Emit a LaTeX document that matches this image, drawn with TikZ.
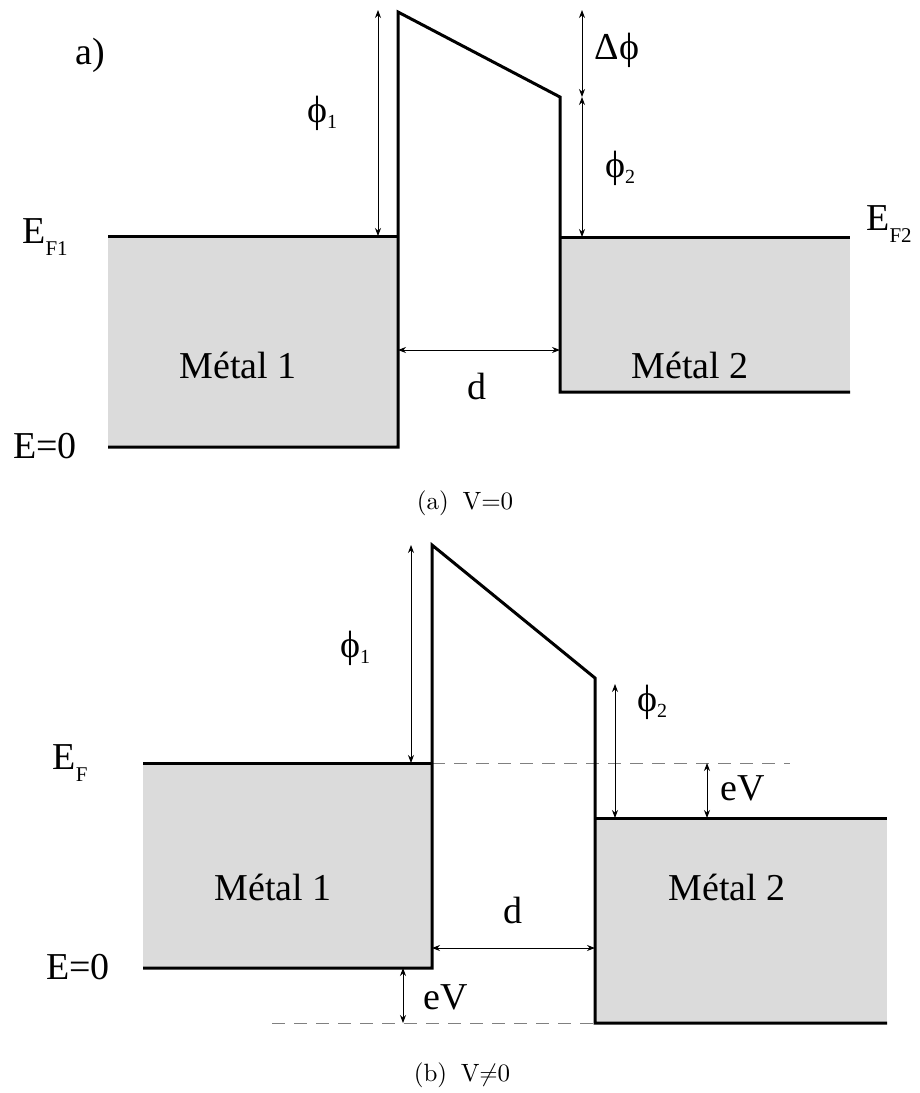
\documentclass[tikz,border=0pt]{standalone}
\usepackage{fontspec}
\newfontfamily\timesfont{Liberation Serif}
\newfontfamily\capfont{lmroman10-regular}[Extension=.otf]
\usetikzlibrary{arrows.meta}
\newcommand\lowsub[1]{\raisebox{-6pt}{\fontsize{20}{20}\selectfont #1}}
\newcommand\fermisub[1]{\raisebox{-12pt}{\fontsize{21}{21}\selectfont #1}}

\begin{document}
\begin{tikzpicture}[x=1pt, y=-1pt,
  band/.style={line width=3pt, line join=miter},
  metal/.style={fill=black!14},
  gap/.style={line width=0.8pt, {Stealth[length=8pt,width=6pt]}-{Stealth[length=8pt,width=6pt]}},
  level/.style={line width=0.8pt, gray, dash pattern=on 13pt off 9pt},
  lbl/.style={font=\timesfont\fontsize{38}{42}\selectfont, inner sep=0pt},
  subcaption/.style={font=\capfont\fontsize{25}{29}\selectfont, inner sep=0pt}]
\useasboundingbox (0,0) rectangle (919,1093);

% (a) V=0 : bands
\fill[metal] (108,236) rectangle (398,447);
\fill[metal] (560,237) rectangle (850,392);
\draw[band] (108,236) -- (398,236);
\draw[band] (108,447) -- (398,447) -- (398,12) -- (560,97) -- (560,392) -- (850,392);
\draw[band] (560,237) -- (850,237);

% (a) gaps
\coordinate (aP1top) at (378,10);
\coordinate (aP1bot) at (378,236);
\coordinate (aDtop) at (582,10);
\coordinate (aDmid) at (582,97);
\coordinate (aP2bot) at (582,237);
\coordinate (aDl) at (398,350);
\coordinate (aDr) at (560,350);
\draw[gap] (aP1top) -- (aP1bot);
\draw[gap] (aDtop) -- (aDmid);
\draw[gap] (aDmid) -- (aP2bot);
\draw[gap] (aDl) -- (aDr);

% (a) labels
\node[lbl] (atag) at (90,55) {a)};
\node[lbl] (aphi1) at (322,113) {ϕ\lowsub{1}};
\node[lbl] (adphi) at (617,50) {Δϕ};
\node[lbl] (aphi2) at (620,168) {ϕ\lowsub{2}};
\node[lbl] (aef1) at (45,237) {E\fermisub{F1}};
\node[lbl] (ae0) at (45,446) {E=0};
\node[lbl] (aef2) at (889,224) {E\fermisub{F2}};
\node[lbl] (am1) at (238,365) {Métal 1};
\node[lbl] (am2) at (690,365) {Métal 2};
\node[lbl] (ad) at (477,386) {d};
\node[subcaption] (acap) at (465,503) {(a)\hspace{0.55em}V=0};

% (b) V!=0 : bands
\fill[metal] (143,763) rectangle (432,968);
\fill[metal] (595,818) rectangle (887,1023);
\draw[level] (432,763) -- (790,763);
\draw[level] (272,1023) -- (595,1023);
\draw[band] (143,763) -- (432,763);
\draw[band] (143,968) -- (432,968) -- (432,545) -- (595,678) -- (595,1023) -- (887,1023);
\draw[band] (595,818) -- (887,818);

% (b) gaps
\coordinate (bP1top) at (411,545);
\coordinate (bP1bot) at (411,763);
\coordinate (bP2top) at (615,684);
\coordinate (bP2bot) at (615,818);
\coordinate (bVtop) at (707,763);
\coordinate (bVbot) at (707,818);
\coordinate (bWtop) at (403,968);
\coordinate (bWbot) at (403,1023);
\coordinate (bDl) at (432,948);
\coordinate (bDr) at (595,948);
\draw[gap] (bP1top) -- (bP1bot);
\draw[gap] (bP2top) -- (bP2bot);
\draw[gap] (bVtop) -- (bVbot);
\draw[gap] (bWtop) -- (bWbot);
\draw[gap] (bDl) -- (bDr);

% (b) labels
\node[lbl] (bphi1) at (355,648) {ϕ\lowsub{1}};
\node[lbl] (bphi2) at (652,702) {ϕ\lowsub{2}};
\node[lbl] (bev) at (743,788) {eV};
\node[lbl] (bev2) at (446,997) {eV};
\node[lbl] (bef) at (70,763) {E\fermisub{F}};
\node[lbl] (be0) at (78,967) {E=0};
\node[lbl] (bm1) at (273,887) {Métal 1};
\node[lbl] (bm2) at (727,887) {Métal 2};
\node[lbl] (bd) at (513,910) {d};
\node[subcaption] (bcap) at (462,1075) {(b)\hspace{0.55em}V$\neq$0};
\end{tikzpicture}
\end{document}
